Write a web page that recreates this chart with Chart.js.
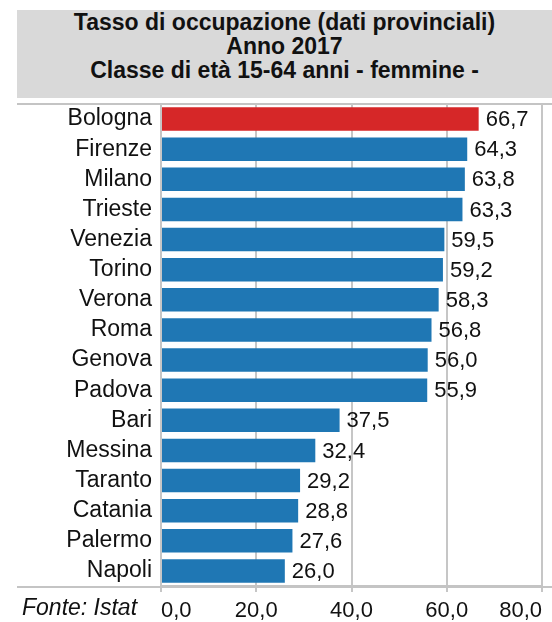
<!DOCTYPE html>
<html lang="it">
<head>
    <meta charset="UTF-8">
    <title>Tasso di occupazione 2017</title>
    <script src="https://cdn.jsdelivr.net/npm/chart.js"></script>
    <style>
        body { margin: 0; background: #fff; font-family: 'Liberation Sans', Arial, sans-serif; }
        .wrap { position: relative; width: 552px; height: 622px; overflow: hidden; }
        .title-box {
            position: absolute; left: 17px; top: 10px; width: 535px; height: 88px;
            background: #d9d9d9; color: #111; text-align: center;
            font-weight: bold; font-size: 23px; line-height: 24px;
        }
        .rule { position: absolute; left: 17px; width: 535px; height: 2px; background: #c4c4c4; }
        .fonte { position: absolute; left: 22px; top: 594px; font-size: 23px; font-style: italic; color: #111; }
        canvas { position: absolute; left: 0; top: 0; }
    </style>
</head>
<body>
<div class="wrap">
    <div class="title-box">
        Tasso di occupazione (dati provinciali)<br>
        Anno 2017<br>
        Classe di età 15-64 anni - femmine -
    </div>
    <div class="rule" style="top: 103px;"></div>
    <canvas id="chart" width="552" height="622"></canvas>
    <div class="rule" style="top: 586px;"></div>
    <div class="fonte">Fonte: Istat</div>
</div>

<script>
    // dati
    const province = ['Bologna', 'Firenze', 'Milano', 'Trieste', 'Venezia', 'Torino', 'Verona', 'Roma',
                      'Genova', 'Padova', 'Bari', 'Messina', 'Taranto', 'Catania', 'Palermo', 'Napoli'];
    const tasso = [66.7, 64.3, 63.8, 63.3, 59.5, 59.2, 58.3, 56.8, 56.0, 55.9, 37.5, 32.4, 29.2, 28.8, 27.6, 26.0];
    const xTicks = [0, 20, 40, 60, 80];

    const fmt = v => v.toFixed(1).replace('.', ',');
    const colori = province.map(p => p === 'Bologna' ? '#d62728' : '#1f77b4');

    const valueLabels = {
        id: 'valueLabels',
        afterDatasetsDraw(chart) {
            const ctx = chart.ctx;
            const meta = chart.getDatasetMeta(0);
            ctx.save();
            ctx.font = '22px "Liberation Sans", Arial, sans-serif';
            ctx.fillStyle = '#111';
            ctx.textAlign = 'left';
            ctx.textBaseline = 'middle';
            meta.data.forEach((bar, i) => {
                ctx.fillText(fmt(tasso[i]), bar.x + 7, bar.y + 1);
            });
            ctx.restore();
        }
    };

    new Chart(document.getElementById('chart'), {
        type: 'bar',
        data: {
            labels: province,
            datasets: [{
                data: tasso,
                backgroundColor: colori,
                borderWidth: 0,
                barPercentage: 0.78,
                categoryPercentage: 1
            }]
        },
        options: {
            indexAxis: 'y',
            responsive: false,
            animation: false,
            layout: { padding: { top: 104, right: 10, left: 0, bottom: 0 } },
            scales: {
                x: {
                    min: 0,
                    max: 80,
                    afterBuildTicks: scale => { scale.ticks = xTicks.map(v => ({ value: v })); },
                    afterFit: scale => { scale.height = 36; },
                    grid: { color: '#c6c6c6', lineWidth: 2, tickLength: 6 },
                    border: { display: true, color: '#c4c4c4', width: 2 },
                    ticks: {
                        align: 'inner',
                        padding: 6,
                        color: '#111',
                        font: { family: '"Liberation Sans", Arial, sans-serif', size: 22 },
                        callback: v => fmt(v)
                    }
                },
                y: {
                    afterFit: scale => { scale.width = 161; },
                    grid: { display: false, drawTicks: false, tickLength: 0 },
                    border: { display: false },
                    ticks: {
                        autoSkip: false,
                        padding: 9,
                        color: '#111',
                        font: { family: '"Liberation Sans", Arial, sans-serif', size: 23 }
                    }
                }
            },
            plugins: {
                legend: { display: false },
                tooltip: { enabled: false }
            }
        },
        plugins: [valueLabels]
    });
</script>
</body>
</html>
